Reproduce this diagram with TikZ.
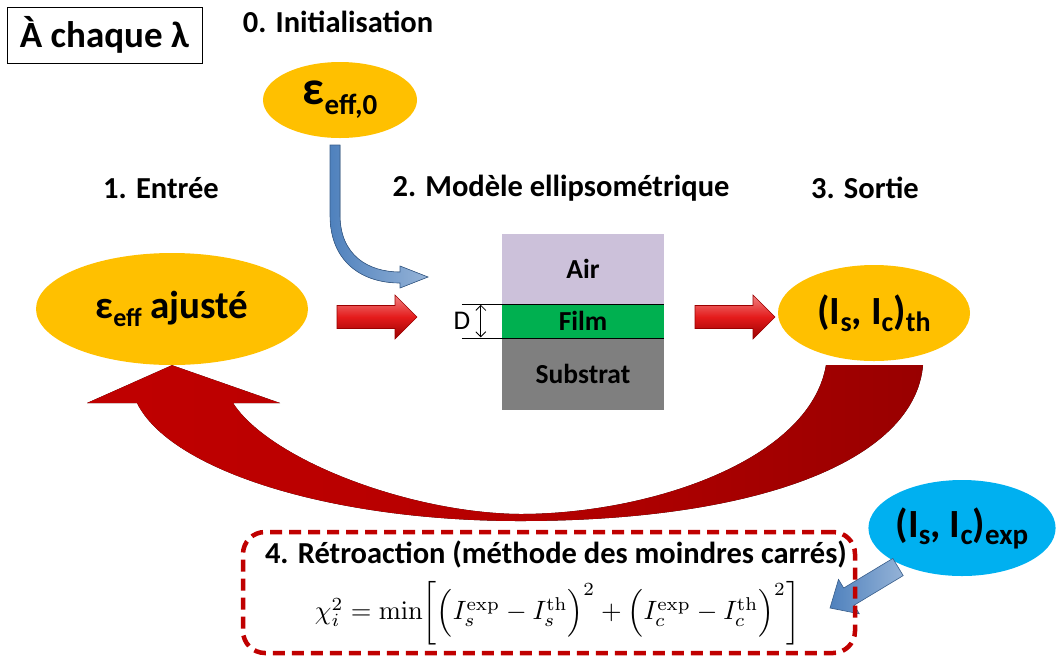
\documentclass[tikz,border=0pt]{standalone}
\usepackage[no-math]{fontspec}
\setmainfont{Carlito}
\usepackage{amsmath}
\usetikzlibrary{shapes.geometric,arrows.meta,calc}
\definecolor{cyel}{HTML}{FFC000}
\definecolor{ccyan}{HTML}{00B0F0}
\definecolor{clav}{HTML}{CCC1DA}
\definecolor{cgreen}{HTML}{00B050}
\definecolor{cgray}{HTML}{7F7F7F}
\definecolor{cred}{HTML}{C00000}
\definecolor{cdred}{HTML}{990000}
\definecolor{cbright}{HTML}{E41B1B}
\definecolor{cblue}{HTML}{4F81BD}
\definecolor{cblued}{HTML}{385D8A}
\definecolor{cbluel}{HTML}{95B3D7}
\newcommand\lowsub[3]{\raisebox{#1}{\fontsize{#2}{#2}\selectfont #3}}
\begin{document}
\begin{tikzpicture}[x=1pt,y=-1pt,
  heading/.style={font=\fontsize{30.5}{34}\selectfont\bfseries, inner sep=0pt},
  blob/.style={ellipse, fill=cyel, inner sep=0pt},
  layer/.style={rectangle, minimum width=162pt, inner sep=0pt, anchor=north, font=\fontsize{27.5}{30}\selectfont\bfseries},
  redblock/.style={top color=cbright!55!white, bottom color=cred!80!black, middle color=cbright, draw=cred!80!black, line width=0.6pt},
  blueblock/.style={left color=cblue, right color=cbluel, draw=cblued, line width=0.6pt},
]
\useasboundingbox (0,0) rectangle (1059,657);

% title box
\node[draw, line width=1pt, minimum width=195pt, minimum height=56pt, inner sep=0pt, font=\fontsize{37}{40}\selectfont\bfseries] (lam) at (104.5,35) {À chaque λ};

% headings
\node[heading] (h0) at (338,22) {0. Initialisation};
\node[heading] (h1) at (161,188) {1. Entrée};
\node[heading] (h2) at (561,188) {2. Modèle ellipsométrique};
\node[heading] (h3) at (865,188) {3. Sortie};

% ellipses
\node[blob, minimum width=154pt, minimum height=76pt, font=\bfseries] (eps0) at (340,100)
  {{\fontsize{48}{48}\selectfont ε}\lowsub{-10pt}{29}{eff,0}};
\node[blob, minimum width=272pt, minimum height=112pt, font=\bfseries] (ajuste) at (172,309)
  {{\fontsize{39}{39}\selectfont ε}\lowsub{-8pt}{26}{eff}{\fontsize{39}{39}\selectfont\ ajusté}};
\node[blob, minimum width=192pt, minimum height=96pt, font=\fontsize{40}{40}\selectfont\bfseries] (th) at (874,313)
  {(I\lowsub{-7pt}{28}{s}, I\lowsub{-7pt}{28}{c})\lowsub{-7pt}{28}{th}};

% stack
\node[layer, fill=clav, minimum height=70pt] (air) at (583,233.5) {Air};
\node[layer, fill=cgreen, minimum height=34pt] (film) at (air.south) {Film};
\node[layer, fill=cgray, minimum height=71pt] (sub) at (film.south) {Substrat};
\draw[line width=0.8pt] ([xshift=-40pt]film.north west) -- (film.north east);
\draw[line width=0.8pt] ([xshift=-40pt]film.south west) -- (film.south east);
\coordinate (dtop) at ([xshift=-21pt,yshift=-1pt]film.north west);
\coordinate (dbot) at ([xshift=-21pt,yshift=1pt]film.south west);
\draw[line width=0.8pt, {Straight Barb[length=5pt,width=10pt]}-{Straight Barb[length=5pt,width=10pt]}] (dtop) -- (dbot);
\node[inner sep=0pt, font=\fontsize{27}{27}\selectfont] (dlab) at (462,321) {D};

% straight red block arrows
\coordinate (ra1) at (337,317);
\coordinate (ra2) at (695,317);
\path[redblock] (ra1) ++(0,-11.5) -- ++(58,0) -- ++(0,-10.5) -- ++(22,22) -- ++(-22,22) -- ++(0,-10.5) -- ++(-58,0) -- cycle;
\path[redblock] (ra2) ++(0,-11.5) -- ++(58,0) -- ++(0,-10.5) -- ++(22,22) -- ++(-22,22) -- ++(0,-10.5) -- ++(-58,0) -- cycle;

% big curved feedback arrow
\fill[left color=cred, right color=cdred, middle color=cred!75!cdred]
  (ajuste.south) -- (280,403) -- (233,403)
  .. controls (270,460) and (410,513) .. (520,514)
  .. controls (650,514) and (810,460) .. (826,365)
  -- (923,365)
  .. controls (915,460) and (760,521) .. (520,521)
  .. controls (330,521) and (170,470) .. (137,403)
  -- (87,403) -- cycle;

% blue curved arrow from initialisation
\fill[left color=cblue, right color=cbluel, draw=cblued, line width=0.6pt]
  (330,145) -- (330,215) .. controls (330,262) and (362,283) .. (400,283)
  -- (400,288) -- (428,277) -- (400,266) -- (400,272)
  .. controls (368,272) and (340,255) .. (340,215) -- (340,145) -- cycle;

% experimental ellipse
\node[ellipse, fill=ccyan, inner sep=0pt, minimum width=184pt, minimum height=96pt, font=\fontsize{40}{40}\selectfont\bfseries] (exp) at (962,528)
  {(I\lowsub{-7pt}{29}{s}, I\lowsub{-7pt}{29}{c})\lowsub{-7pt}{29}{exp}};
\coordinate (ba) at (898,567);
\path[blueblock] (892.8,558.4) -- (843.7,588.0) -- (838.5,579.4) -- (830,608)
  -- (859.3,613.8) -- (854.1,605.2) -- (903.2,575.6) -- cycle;

% feedback box
\node[draw=cred, line width=4.5pt, dash pattern=on 12pt off 7pt, rounded corners=22pt, minimum width=612pt, minimum height=121pt, inner sep=0pt] (fb) at (549,592.5) {};
\node[heading] (fbt) at (556,554) {4. Rétroaction (méthode des moindres carrés)};
\node[inner sep=0pt] (chi) at (557.5,613) {\resizebox{485pt}{!}{$\chi_i^2=\min\biggl[\Bigl(I_s^{\mathrm{exp}}-I_s^{\mathrm{th}}\Bigr)^2+\Bigl(I_c^{\mathrm{exp}}-I_c^{\mathrm{th}}\Bigr)^2\biggr]$}};
\end{tikzpicture}
\end{document}
